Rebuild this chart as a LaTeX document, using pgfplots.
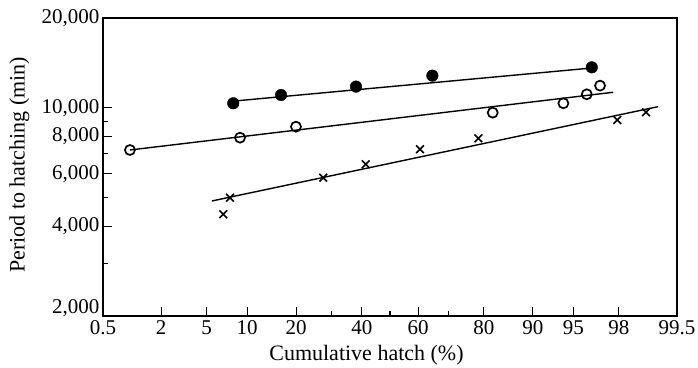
\documentclass[border=0pt]{standalone}
\usepackage{fontspec}
\setmainfont{Liberation Serif}
\usepackage{pgfplots}
\pgfplotsset{compat=1.18}
\begin{document}
\begin{tikzpicture}
\useasboundingbox (-103pt,-51pt) rectangle (595pt,316pt);
\begin{axis}[
  at={(0pt,0pt)}, anchor=south west,
  scale only axis, width=574pt, height=298pt,
  xmin=-2.5758, xmax=2.5758,
  ymode=log, ymin=2000, ymax=20000,
  axis line style={line width=1.3pt},
  /pgf/number format/assume math mode=true,
  xtick={-2.5758,-2.0537,-1.6449,-1.2816,-0.8416,-0.2533,0.2533,0.8416,1.2816,1.6449,2.0537,2.5758},
  xticklabels={0.5,2,5,10,20,40,60,80,90,95,98,99.5},
  minor xtick={-0.5244,0,0.5244},
  ytick={2000,4000,6000,8000,10000,20000},
  yticklabels={{\raisebox{8pt}[\height][\depth]{2,000}},{4,000},{6,000},{8,000},{10,000},{20,000}},
  minor ytick={3000,5000,7000,9000},
  log basis y=10,
  tick align=inside,
  xtick pos=bottom, ytick pos=left,
  major tick length=9pt, minor tick length=5pt,
  every tick/.style={line width=1.2pt, black},
  tick label style={font=\fontsize{21}{24}\selectfont},
  xticklabel style={yshift=-1pt},
  xlabel={Cumulative hatch (\%)},
  ylabel={Period to hatching (min)},
  label style={font=\fontsize{22}{26}\selectfont},
  xlabel style={at={(axis description cs:0.459,-0.1477)}, anchor=base},
  ylabel style={at={(axis description cs:-0.1455,0.507)}, anchor=center},
]
% fitted lines
\addplot[black, line width=1.4pt] coordinates {(-1.364,10556) (1.813,13590)};
\addplot[black, line width=1.4pt] coordinates {(-2.334,7212) (2.002,11264)};
\addplot[black, line width=1.4pt] coordinates {(-1.598,4864) (2.406,10080)};
% filled circles
\addplot[only marks, mark=*, mark size=5.8pt, mark options={fill=black, draw=black}] coordinates {
(-1.407,10346) (-0.978,11030) (-0.305,11770) (0.380,12810) (1.811,13660)};
% open circles
\addplot[only marks, mark=o, mark size=5pt, mark options={fill=white, draw=black, line width=1.7pt}] coordinates {
(-2.334,7212) (-1.346,7932) (-0.844,8634) (0.922,9622) (1.556,10346) (1.766,11092) (1.885,11858)};
% crosses
\addplot[only marks, mark=x, mark size=5.5pt, mark options={draw=black, line width=1.6pt}] coordinates {
(-1.436,4989) (-1.496,4389) (-0.599,5823) (-0.218,6457) (0.269,7254) (0.793,7895) (2.040,9093) (2.298,9652)};
\end{axis}
\end{tikzpicture}
\end{document}
